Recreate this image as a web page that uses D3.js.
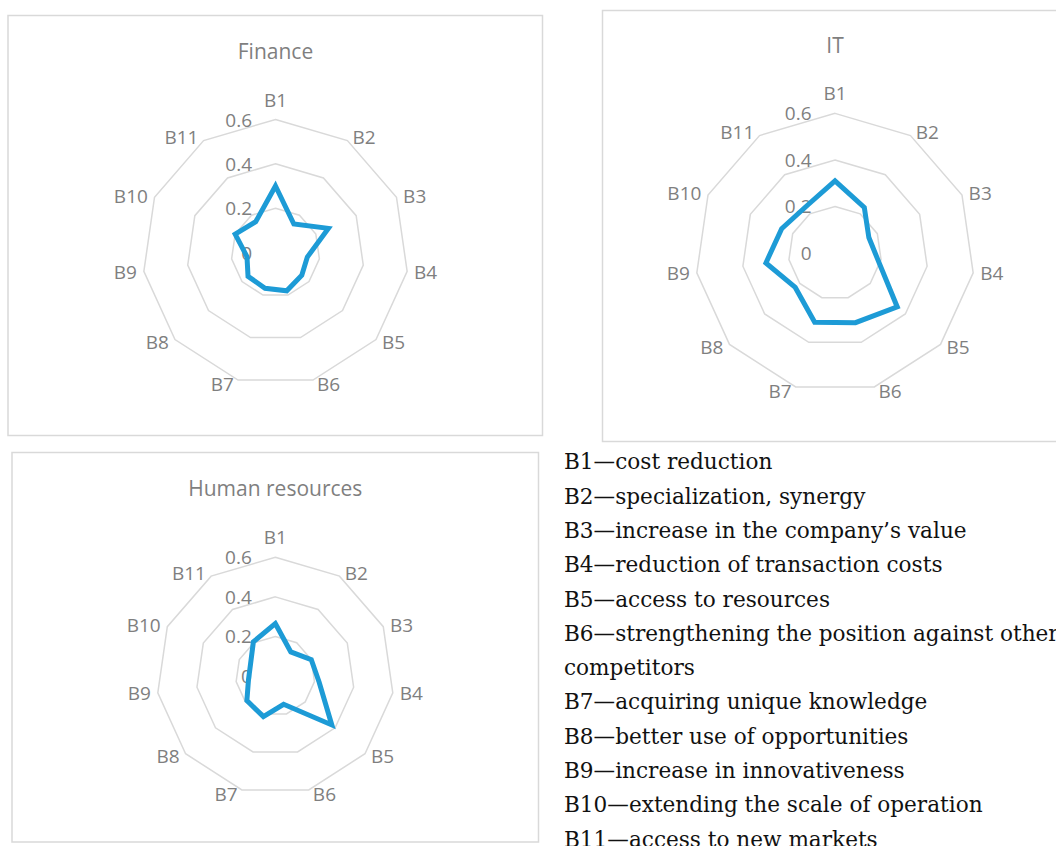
<!DOCTYPE html>
<html>
<head>
<meta charset="utf-8">
<script src="https://cdn.jsdelivr.net/npm/d3@7"></script>
<style>
  html, body { margin: 0; padding: 0; background: #ffffff; overflow: hidden; }
  svg { display: block; }
</style>
</head>
<body>
<svg id="chart" width="1056" height="846"></svg>
<script>
// ---------- data ----------
const categories = ["B1", "B2", "B3", "B4", "B5", "B6", "B7", "B8", "B9", "B10", "B11"];
const financeValues = [0.30, 0.153, 0.262, 0.145, 0.157, 0.18, 0.168, 0.164, 0.13, 0.20, 0.165];
const itValues      = [0.31, 0.233, 0.16, 0.185, 0.354, 0.312, 0.31, 0.226, 0.30, 0.252, 0.235];
const hrValues      = [0.265, 0.145, 0.20, 0.224, 0.378, 0.149, 0.214, 0.19, 0.137, 0.138, 0.205];
const tickValues = [0, 0.2, 0.4, 0.6];
const tickLabels = ["0", "0.2", "0.4", "0.6"];
const panelTitles = ["Finance", "IT", "Human resources"];
const legendLines = [
  "B1\u2014cost reduction",
  "B2\u2014specialization, synergy",
  "B3\u2014increase in the company\u2019s value",
  "B4\u2014reduction of transaction costs",
  "B5\u2014access to resources",
  "B6\u2014strengthening the position against other",
  "competitors",
  "B7\u2014acquiring unique knowledge",
  "B8\u2014better use of opportunities",
  "B9\u2014increase in innovativeness",
  "B10\u2014extending the scale of operation",
  "B11\u2014access to new markets"
];

// ---------- layout ----------
const panels = [
  { title: panelTitles[0], values: financeValues, box: [8, 15.5, 542.5, 435.5], cx: 275.5, cy: 252.5, R: 133, titleY: 51 },
  { title: panelTitles[1], values: itValues,      box: [602.5, 10.5, 1062, 441.5], cx: 835, cy: 253, R: 139.6, titleY: 45 },
  { title: panelTitles[2], values: hrValues,      box: [12, 452.5, 538.5, 842], cx: 275.3, cy: 676, R: 118.7, titleY: 488 }
];

const svg = d3.select("#chart");
const grey = "#7f7f7f";
const ringColor = "#d9d9d9";
const lineColor = "#1d9bd6";
const sansFont = "'Open Sans', 'Noto Sans', sans-serif";

const angle = d3.scalePoint().domain(categories).range([0, 2 * Math.PI * (categories.length) / categories.length]);
const angleOf = (c) => categories.indexOf(c) * 2 * Math.PI / categories.length;

panels.forEach(p => {
  const g = svg.append("g");
  // frame
  g.append("rect")
    .attr("x", p.box[0]).attr("y", p.box[1])
    .attr("width", p.box[2] - p.box[0]).attr("height", p.box[3] - p.box[1])
    .attr("fill", "#fff").attr("stroke", ringColor).attr("stroke-width", 1.5);

  const r = d3.scaleLinear().domain([0, 0.6]).range([0, p.R]);
  const pt = (c, v) => {
    const a = angleOf(c);
    return [p.cx + r(v) * Math.sin(a), p.cy - r(v) * Math.cos(a)];
  };

  // title
  g.append("text")
    .attr("x", p.cx).attr("y", p.titleY)
    .attr("text-anchor", "middle").attr("dominant-baseline", "central")
    .attr("font-family", sansFont).attr("font-size", 21)
    .attr("fill", grey).text(p.title);

  // rings
  tickValues.filter(v => v > 0).forEach(v => {
    g.append("polygon")
      .attr("points", categories.map(c => pt(c, v).join(",")).join(" "))
      .attr("fill", "none").attr("stroke", ringColor).attr("stroke-width", 1.5);
  });

  // tick labels
  tickValues.forEach((v, i) => {
    g.append("text")
      .attr("x", p.cx - 23.5).attr("y", p.cy - r(v))
      .attr("text-anchor", "end").attr("dominant-baseline", "central")
      .attr("font-family", sansFont).attr("font-size", 19)
      .attr("fill", grey).text(tickLabels[i]);
  });

  // category labels
  categories.forEach(c => {
    const a = angleOf(c);
    const s = Math.sin(a), co = Math.cos(a);
    const [vx, vy] = pt(c, 0.6);
    let anchor = "middle", x = vx, y;
    if (Math.abs(s) < 0.1) { y = vy - 20; }
    else {
      anchor = s > 0 ? "start" : "end";
      x = vx + Math.sign(s) * (3 + 4 * Math.abs(s));
      y = vy - co * 4;
    }
    g.append("text")
      .attr("x", x).attr("y", y)
      .attr("text-anchor", anchor).attr("dominant-baseline", "central")
      .attr("font-family", sansFont).attr("font-size", 19)
      .attr("fill", grey).text(c);
  });

  // data line
  const line = d3.lineRadial()
    .angle((d, i) => angleOf(categories[i]))
    .radius(d => r(d))
    .curve(d3.curveLinearClosed);
  g.append("path")
    .attr("transform", `translate(${p.cx},${p.cy})`)
    .attr("d", line(p.values))
    .attr("fill", "none").attr("stroke", lineColor)
    .attr("stroke-width", 5).attr("stroke-linejoin", "miter");
});

// legend
const lg = svg.append("g");
legendLines.forEach((t, i) => {
  lg.append("text")
    .attr("x", 564).attr("y", 469.3 + i * 34.3)
    .attr("font-family", "'DejaVu Serif', 'Liberation Serif', serif")
    .attr("font-size", 21.6)
    .attr("fill", "#111").text(t);
});
</script>
</body>
</html>
